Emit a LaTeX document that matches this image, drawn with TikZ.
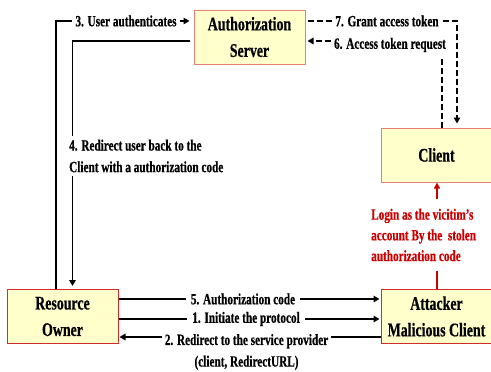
\documentclass[tikz,border=0pt]{standalone}
\usepackage{fontspec}
\setmainfont{Liberation Serif}[FakeStretch=0.72, BoldFeatures={FakeBold=0.6}]
\usetikzlibrary{arrows.meta}
\definecolor{boxfill}{HTML}{FFFFCC}
\definecolor{lightred}{HTML}{E57F73}
\definecolor{darkred}{HTML}{D42A2A}
\definecolor{labred}{HTML}{CC0000}
\begin{document}
\begin{tikzpicture}[x=1pt,y=-1pt,
  box/.style={draw, fill=boxfill, line width=1pt, minimum width=111pt, minimum height=54pt,
    inner sep=0pt, align=center, font=\bfseries\fontsize{19.3}{26.5}\selectfont},
  lbl/.style={fill=white, inner xsep=3pt, inner ysep=2pt, font=\bfseries\fontsize{15.6}{21.6}\selectfont},
  conn/.style={line width=1.8pt, -{Triangle[length=6pt,width=6.5pt]}},
  dconn/.style={conn, dash pattern=on 6pt off 3pt},
  redconn/.style={draw=labred, line width=1.4pt, -{Triangle[length=6pt,width=6pt]}},
]
\useasboundingbox (0,0) rectangle (491,372);
% boxes
\node[box, draw=lightred] (as) at (249.5,37) {Authorization\\Server};
\node[box, draw=lightred] (cl) at (436.5,155) {Client};
\node[box, draw=darkred] (ro) at (62.5,316.5) {Resource\\Owner};
\node[box, draw=darkred] (at) at (436.5,316.5) {Attacker\\Malicious Client};
% 3. user authenticates
\draw[conn, shorten >=4pt] ([xshift=-6.5pt]ro.north) |- ([yshift=16pt]as.west);
\node[lbl] (l3) at (126,21) {3. User authenticates};
% 4. redirect back
\draw[conn, shorten <=4pt, shorten >=3pt] ([yshift=-4pt]as.west) -| ([xshift=10pt]ro.north);
\node[lbl, anchor=west, align=left, inner ysep=4pt] (l4) at (66,156) {4. Redirect user back to the\\Client with a authorization code};
% 7. grant access token
\draw[dconn, shorten <=2pt, shorten >=4pt] ([yshift=16pt]as.east) -| ([xshift=20.5pt]cl.north);
\node[lbl] (l7) at (387,21) {7. Grant access token};
% 6. access token request
\draw[dconn, shorten >=2pt] ([xshift=5.5pt]cl.north) |- ([yshift=-4pt]as.east);
\node[lbl, inner ysep=5pt] (l6) at (390,45) {6. Access token request};
% bottom arrows
\draw[conn, shorten >=1pt] ([yshift=17.5pt]ro.east) -- ([yshift=17.5pt]at.west);
\node[lbl, inner xsep=5pt] (l5) at (243,299) {5. Authorization code};
\draw[conn, shorten >=1pt] ([yshift=-2.5pt]ro.east) -- ([yshift=-2.5pt]at.west);
\node[lbl, inner xsep=5pt] (l1) at (246,319) {1. Initiate the protocol};
\draw[conn, shorten >=1pt] ([yshift=-20.5pt]at.west) -- ([yshift=-20.5pt]ro.east);
\node[lbl, align=center] (l2) at (246.5,352) {2. Redirect to the service provider\\(client, RedirectURL)};
% red attack path
\draw[redconn] ([xshift=0.5pt]at.north) -- ([xshift=0.5pt]cl.south);
\node[lbl, anchor=west, align=left, text=labred, inner ysep=10pt, inner xsep=3pt,
  font=\bfseries\fontsize{15.6}{20.7}\selectfont] (lr) at (368,235)
  {Login as the vicitim's\\account By the~ stolen\\authorization code};
\end{tikzpicture}
\end{document}
